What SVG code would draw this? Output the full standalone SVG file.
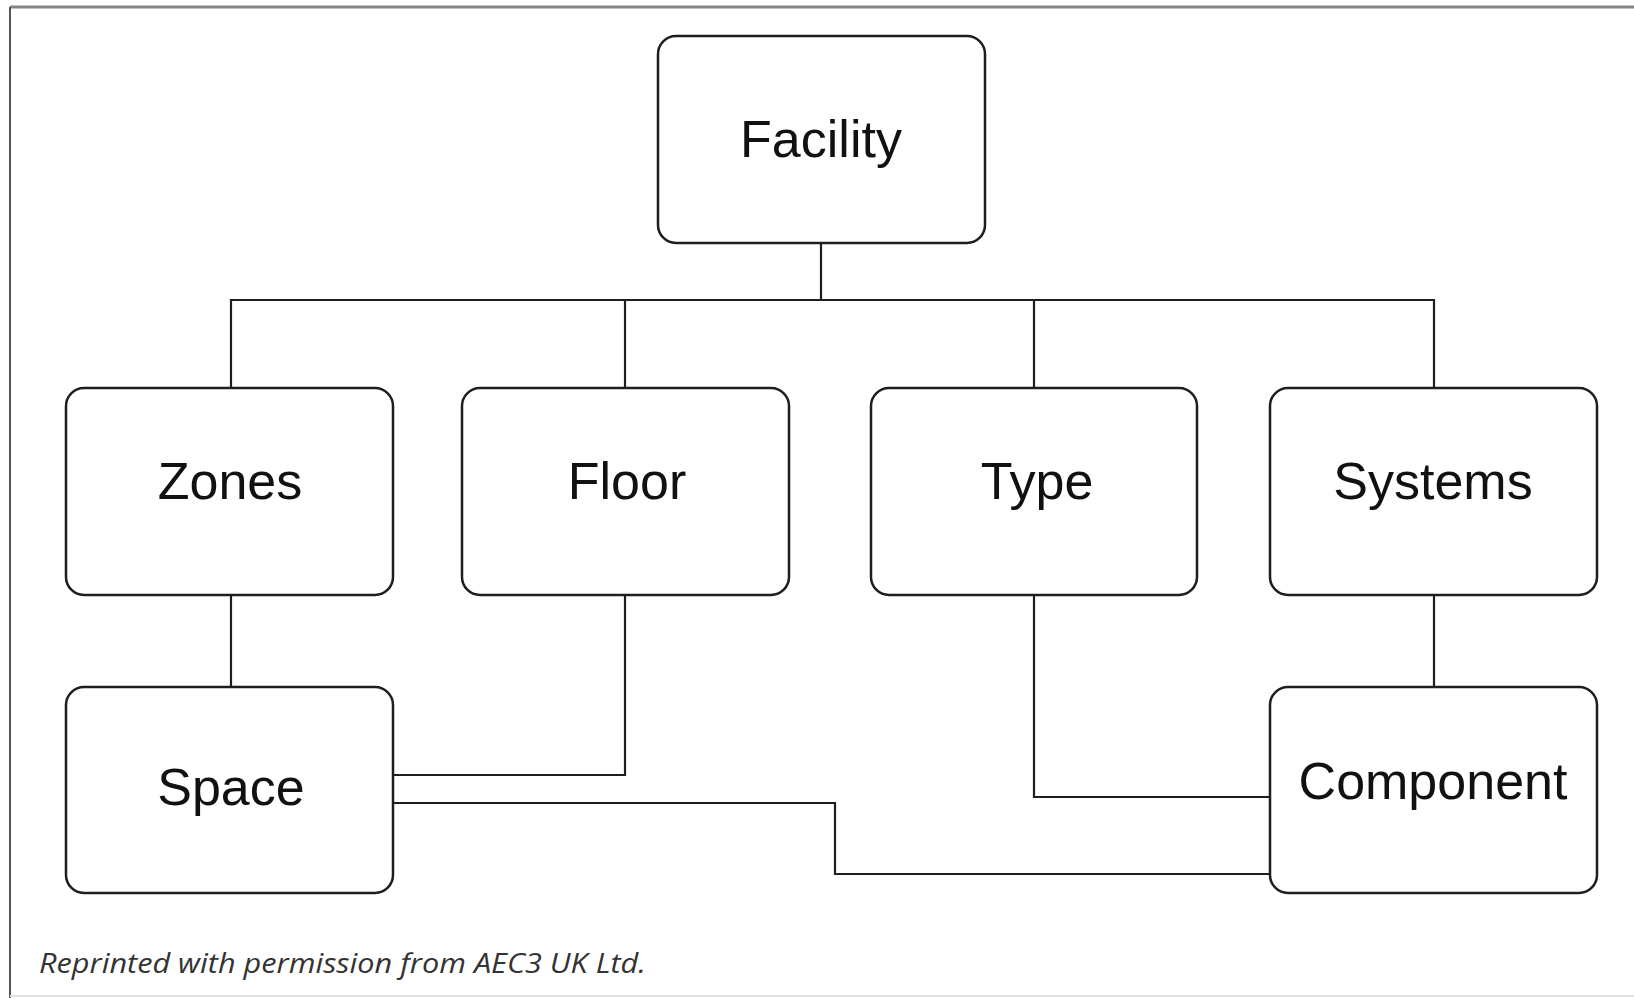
<svg xmlns="http://www.w3.org/2000/svg" width="1634" height="998" viewBox="0 0 1634 998">
  <style>
    .box { fill: #ffffff; stroke: #1e1e1e; stroke-width: 2.5; }
    .label { font-family: "Liberation Sans", Arial, sans-serif; font-size: 52px; fill: #111111; text-anchor: middle; }
    .wire { fill: none; stroke: #1e1e1e; stroke-width: 2.2; }
    .credit { font-family: "Open Sans", "Liberation Sans", sans-serif; font-style: italic; font-size: 27px; fill: #333333; }
  </style>
  <rect x="0" y="0" width="1634" height="998" fill="#ffffff"/>

  <!-- outer frame -->
  <g id="frame">
    <line x1="10" y1="7" x2="1634" y2="7" stroke="#858585" stroke-width="3"/>
    <line x1="10" y1="7" x2="10" y2="998" stroke="#555555" stroke-width="2"/>
    <line x1="10" y1="996" x2="1634" y2="996" stroke="#e2e2e2" stroke-width="2"/>
  </g>

  <!-- connectors -->
  <g id="connectors" class="wire">
    <path d="M821 243 V300"/>
    <path d="M231 388 V300 H1434 V388"/>
    <path d="M625 300 V388"/>
    <path d="M1034 300 V388"/>
    <path d="M231 595 V687"/>
    <path d="M1434 595 V687"/>
    <path d="M625 595 V775 H393"/>
    <path d="M1034 595 V797 H1270"/>
    <path d="M393 803 H835 V874 H1270"/>
  </g>

  <g id="facility">
    <rect class="box" x="658" y="36" width="327" height="207" rx="18"/>
    <text class="label" x="821" y="157">Facility</text>
  </g>
  <g id="zones">
    <rect class="box" x="66" y="388" width="327" height="207" rx="18"/>
    <text class="label" x="230" y="499">Zones</text>
  </g>
  <g id="floor">
    <rect class="box" x="462" y="388" width="327" height="207" rx="18"/>
    <text class="label" x="627" y="499">Floor</text>
  </g>
  <g id="type">
    <rect class="box" x="871" y="388" width="326" height="207" rx="18"/>
    <text class="label" x="1037" y="499">Type</text>
  </g>
  <g id="systems">
    <rect class="box" x="1270" y="388" width="327" height="207" rx="18"/>
    <text class="label" x="1433" y="499">Systems</text>
  </g>
  <g id="space">
    <rect class="box" x="66" y="687" width="327" height="206" rx="18"/>
    <text class="label" x="231" y="805">Space</text>
  </g>
  <g id="component">
    <rect class="box" x="1270" y="687" width="327" height="206" rx="18"/>
    <text class="label" x="1433" y="799">Component</text>
  </g>

  <text class="credit" x="39" y="973" textLength="607" lengthAdjust="spacingAndGlyphs">Reprinted with permission from AEC3 UK Ltd.</text>
</svg>
